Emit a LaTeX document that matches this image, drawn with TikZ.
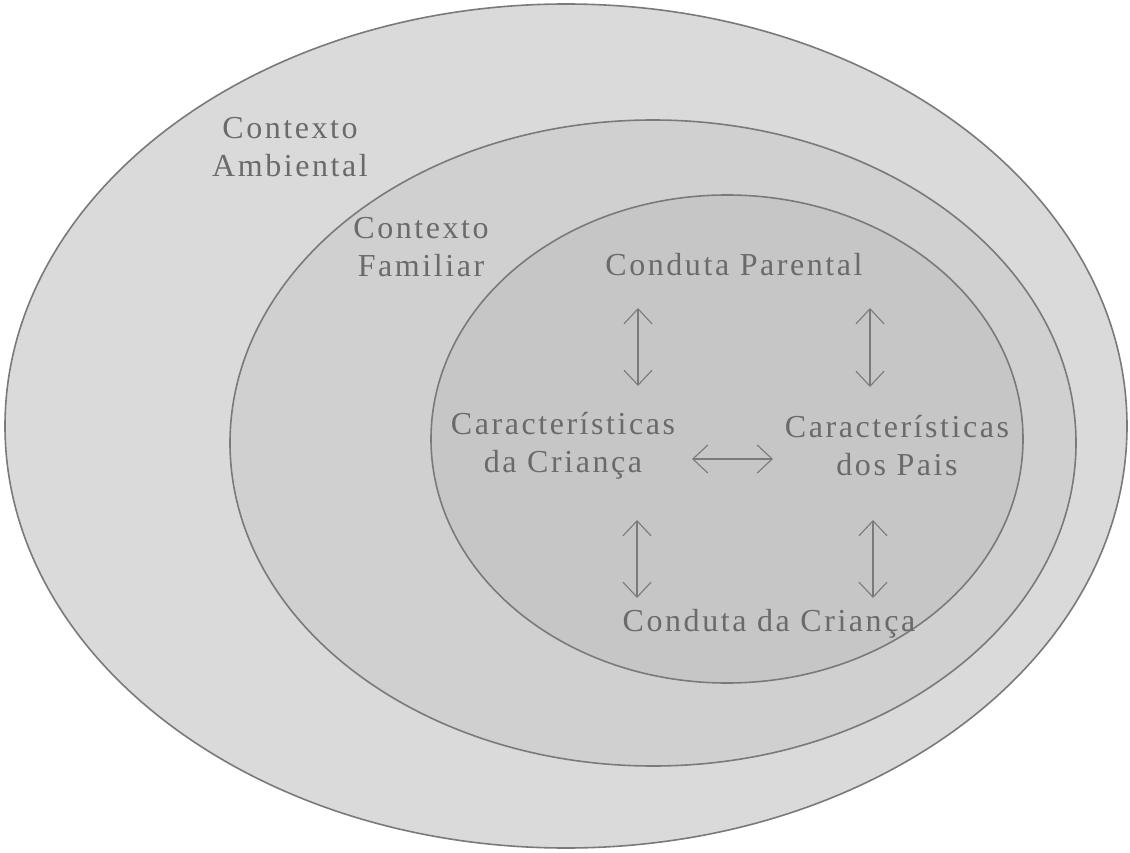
\documentclass[tikz,border=0pt]{standalone}
\usepackage{fontspec}
\setmainfont[LetterSpace=8]{Liberation Serif}
\usetikzlibrary{arrows.meta}
\definecolor{txt}{HTML}{6A6A6A}
\definecolor{edge}{HTML}{7A7A7A}
\definecolor{fillA}{HTML}{DADADA}
\definecolor{fillB}{HTML}{D0D0D0}
\definecolor{fillC}{HTML}{C6C6C6}
\tikzset{
  ring/.style={draw=edge, line width=1.6pt},
  lbl/.style={text=txt, font=\fontsize{32}{38}\selectfont, align=center, inner sep=0pt},
  dbl/.style={draw=edge, line width=1.3pt, {Straight Barb[length=15pt,width=28pt,line width=1.1pt]}-{Straight Barb[length=15pt,width=28pt,line width=1.1pt]}}
}
\begin{document}
\begin{tikzpicture}[x=1pt,y=-1pt]
\useasboundingbox (0,0) rectangle (1130,853);
\fill[white] (0,0) rectangle (1130,853);
\draw[ring, fill=fillA] (566,426) ellipse [x radius=561, y radius=422];
\draw[ring, fill=fillB] (653,443) ellipse [x radius=423, y radius=323];
\draw[ring, fill=fillC] (727,439) ellipse [x radius=296, y radius=244];

\node[lbl] (amb) at (290,147) {Contexto\\Ambiental};
\node[lbl] (fam) at (421,247) {Contexto\\Familiar};
\node[lbl] (cp) at (734,265) {Conduta Parental};
\node[lbl] (cc) at (563,446) {Características\\da Criança};
\node[lbl] (cpa) at (897,446) {Características\\dos Pais};
\node[lbl] (cdc) at (769,624) {Conduta da Criança};

\coordinate (a1t) at (638,308); \coordinate (a1b) at (638,386);
\coordinate (a2t) at (870,308); \coordinate (a2b) at (870,387);
\coordinate (a3t) at (637,520); \coordinate (a3b) at (637,598);
\coordinate (a4t) at (873,520); \coordinate (a4b) at (873,598);
\coordinate (hl) at (692,459); \coordinate (hr) at (773,459);
\draw[dbl] (a1t) -- (a1b);
\draw[dbl] (a2t) -- (a2b);
\draw[dbl] (a3t) -- (a3b);
\draw[dbl] (a4t) -- (a4b);
\draw[dbl] (hl) -- (hr);
\end{tikzpicture}
\end{document}
